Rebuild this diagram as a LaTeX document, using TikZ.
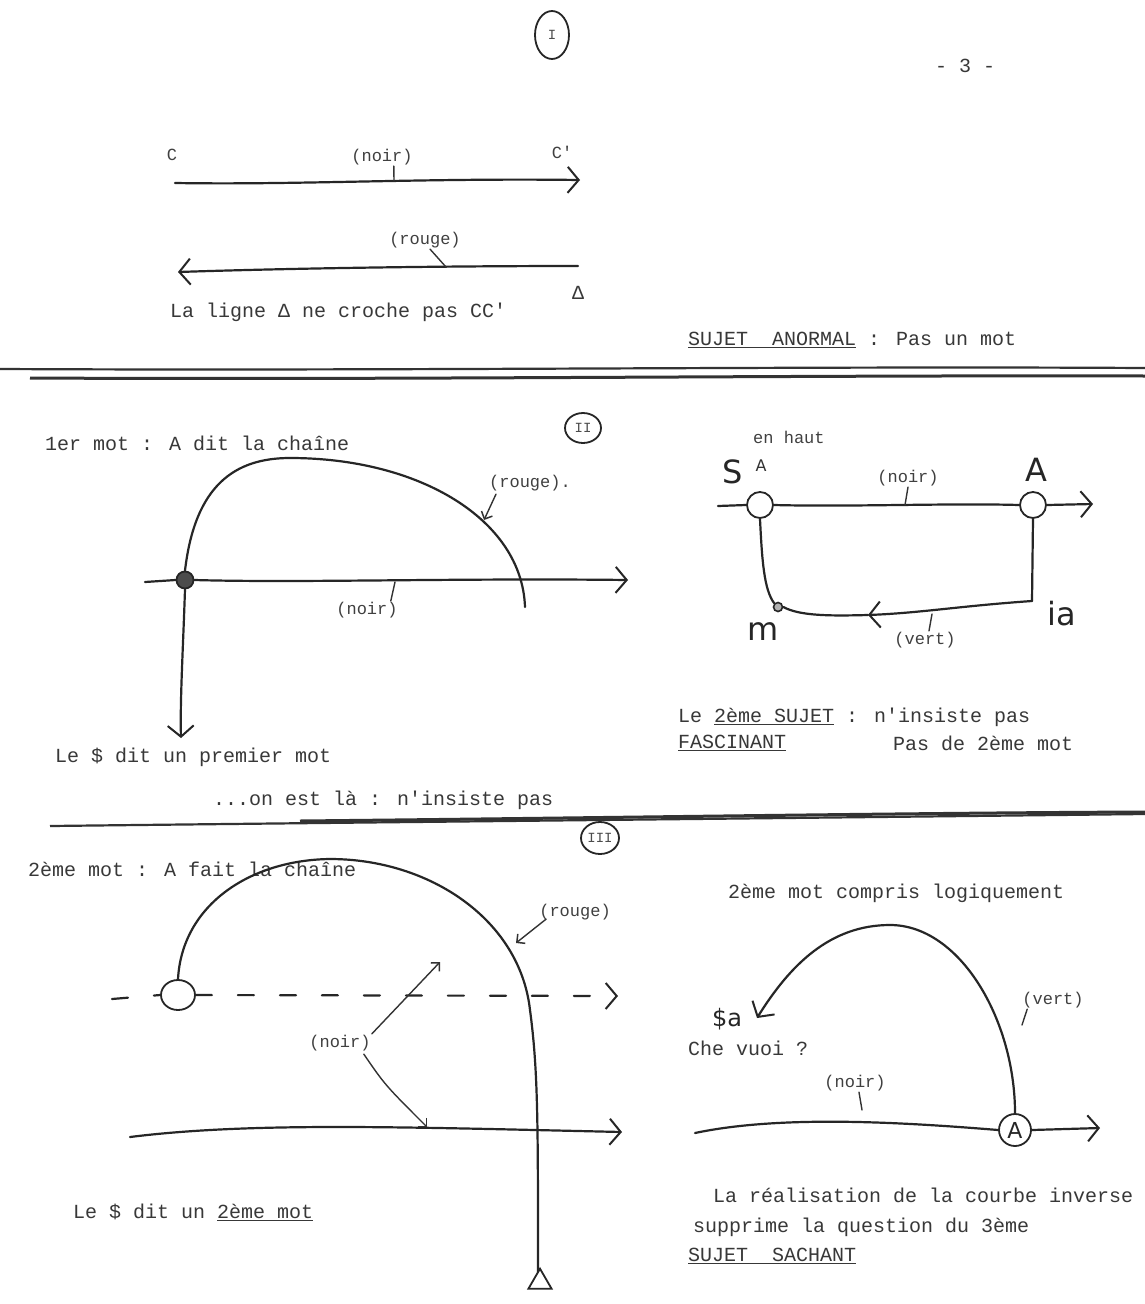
\documentclass[tikz,border=0pt]{standalone}
\usepackage{fontspec}
\newfontfamily\tw{Liberation Mono}
\newfontfamily\hw{DejaVu Sans}
\usetikzlibrary{arrows.meta,shapes.geometric}
\tikzset{
 ink/.style={draw=black!85, line width=2.2pt, line cap=round, line join=round},
 barb/.style={-{Straight Barb[length=11pt,width=26pt,line width=2pt]}},
 rbarb/.style={{Straight Barb[length=11pt,width=26pt,line width=2pt]}-},
 sbarb/.style={-{Straight Barb[length=6pt,width=12pt,line width=1.5pt]}},
 txt/.style={font=\tw\fontsize{20}{22}\selectfont, text=black!78, anchor=west, inner sep=0pt},
 lbl/.style={font=\tw\fontsize{17}{20}\selectfont, text=black!75, inner sep=1pt},
 hand/.style={font=\hw\fontsize{32}{34}\selectfont, text=black!85, inner sep=0pt},
 ring/.style={draw=black!85, line width=1.8pt, circle, minimum size=26pt, inner sep=0pt},
 roman/.style={draw=black!85, line width=1.8pt, ellipse, minimum width=36pt, minimum height=30pt, inner sep=0pt, font=\tw\fontsize{14}{16}\selectfont, text=black!70},
 leader/.style={draw=black!80, line width=1.4pt, line cap=round},
 sep/.style={draw=black!80, line width=2.2pt},
}
\begin{document}
\begin{tikzpicture}[x=1pt,y=-1pt]
\useasboundingbox (0,0) rectangle (1145,1304);
\fill[white] (0,0) rectangle (1145,1304);

% ---------- header ----------
\node[roman, minimum width=34pt, minimum height=48pt] (r1) at (552,35) {I};
\node[txt] (page) at (935,66) {- 3 -};

% ---------- section I ----------
\node[lbl] (C) at (172,155) {C};
\node[lbl] (Cp) at (562,152) {C'};
\coordinate (c1) at (175,183);
\coordinate (c2) at (580,180);
\draw[ink,barb] (c1) .. controls (300,185) and (420,178) .. (c2);
\node[lbl] (noir1) at (382,157) {(noir)};
\coordinate (n1t) at (394,181);
\draw[leader] (noir1.south east) ++(-20,0) -- (n1t);

\coordinate (d1) at (578,266);
\coordinate (d2) at (178,272);
\draw[ink,rbarb] (d2) .. controls (300,268) and (450,266) .. (d1);
\node[lbl] (rouge1) at (425,240) {(rouge)};
\coordinate (r1t) at (446,267);
\draw[leader] (rouge1.south) ++(5,0) -- (r1t);
\node[txt, anchor=center] (delta1) at (578,293) {Δ};
\node[txt] (capI) at (170,312) {La ligne Δ ne croche pas CC'};
\node[txt] (capI2) at (688,340) {\underline{SUJET\ \ ANORMAL} : Pas un mot};

% separator 1
\draw[sep] (0,369) .. controls (400,371) and (800,366) .. (1145,368);
\draw[sep, line width=3pt] (30,378) .. controls (400,380) and (800,375) .. (1145,376);

% ---------- section II left ----------
\node[roman] (r2) at (583,428) {II};
\node[txt] (t2) at (45,443) {1er mot : A dit la chaîne};
\node[ring, minimum size=17pt, fill=black!70] (D2) at (185,580) {};
\draw[ink] (D2.north) .. controls (195,485) and (235,458) .. (290,458)
  .. controls (420,458) and (522,520) .. (525,607);
\node[lbl] (rouge2) at (530,483) {(rouge).};
\coordinate (r2t) at (484,520);
\draw[leader,sbarb] (rouge2.south west) ++(8,2) -- (r2t);
\coordinate (h2a) at (145,582);
\coordinate (h2b) at (628,580);
\draw[ink] (h2a) -- (D2.west);
\draw[ink,barb] (D2.east) .. controls (300,583) and (450,578) .. (h2b);
\node[lbl] (noir2) at (367,610) {(noir)};
\coordinate (n2t) at (395,582);
\draw[leader] (noir2.north east) ++(-8,0) -- (n2t);
\coordinate (v2) at (181,738);
\draw[ink,barb] (D2.south) .. controls (183,650) and (180,700) .. (v2);
\node[txt] (t2b) at (55,757) {Le \$ dit un premier mot};
\node[txt] (t2c) at (213,800) {...on est là : n'insiste pas};

% ---------- section II right ----------
\node[lbl, anchor=west] (enhaut) at (752,437) {en haut};
\node[hand] (S2) at (733,472) {S};
\node[font=\hw\fontsize{16}{18}\selectfont, text=black!80] (a2) at (761,466) {A};
\node[hand] (A2) at (1036,470) {A};
\node[ring] (Sc) at (760,505) {};
\node[ring] (Ac) at (1033,505) {};
\coordinate (l2a) at (718,506);
\coordinate (l2b) at (1093,504);
\draw[ink] (l2a) -- (Sc.west);
\draw[ink] (Sc.east) .. controls (850,507) and (950,503) .. (Ac.west);
\draw[ink,barb] (Ac.east) -- (l2b);
\node[lbl] (noir3) at (908,478) {(noir)};
\coordinate (n3t) at (905,505);
\draw[leader] (noir3.south) -- (n3t);
\node[ring, minimum size=9pt, line width=1.6pt, fill=black!30] (mdot) at (778,607) {};
\coordinate (corner) at (1032,601);
\coordinate (midarr) at (868,615);
\draw[ink] (Sc.south) .. controls (762,560) and (764,590) .. (mdot.north west);
\draw[ink] (Ac.south) -- (corner);
\draw[ink,barb] (corner) .. controls (960,606) and (920,613) .. (midarr);
\draw[ink] (midarr) .. controls (830,616) and (800,616) .. (mdot.east);
\node[hand] (m) at (763,632) {m};
\node[hand] (ia) at (1062,614) {ia};
\node[lbl] (vert2) at (925,640) {(vert)};
\coordinate (v2t) at (932,614);
\draw[leader] (vert2.north) ++(4,0) -- (v2t);
\node[txt] (t2d) at (678,717) {Le \underline{2ème SUJET} : n'insiste pas};
\node[txt] (t2e) at (678,743) {\underline{FASCINANT}};
\node[txt] (t2f) at (893,743) {Pas de 2ème mot};

% separator 2
\draw[sep] (50,826) .. controls (400,822) and (800,818) .. (1145,814);
\draw[sep, line width=3pt] (300,821) .. controls (600,818) and (900,813) .. (1145,812);

% ---------- section III left ----------
\node[roman, minimum width=38pt, minimum height=32pt] (r3) at (600,838) {III};
\node[txt] (t3) at (28,869) {2ème mot : A fait la chaîne};
\node[ring, ellipse, minimum width=34pt, minimum height=30pt] (C3) at (178,995) {};
\coordinate (dl) at (112,999);
\coordinate (dr) at (618,996);
\draw[ink, dash pattern=on 16pt off 26pt] (dl) -- (C3.west);
\draw[ink, dash pattern=on 16pt off 26pt, barb] (C3.east) -- (dr);
\coordinate (bot3) at (538,1272);
\draw[ink] (C3.north) .. controls (182,905) and (250,860) .. (330,859)
  .. controls (430,859) and (520,920) .. (530,1010)
  .. controls (538,1070) and (538,1120) .. (bot3);
\node[draw=black!85, line width=1.8pt, isosceles triangle, shape border rotate=90, minimum width=22pt, minimum height=20pt, inner sep=0pt, isosceles triangle apex angle=60] (tri3) at (540,1282) {};
\node[lbl] (rouge3) at (575,912) {(rouge)};
\coordinate (r3t) at (516,943);
\draw[leader,sbarb] (rouge3.south west) ++(8,-2) -- (r3t);
\coordinate (s3a) at (130,1137);
\coordinate (s3b) at (622,1132);
\draw[ink,barb] (s3a) .. controls (250,1122) and (400,1127) .. (s3b);
\node[lbl] (noir4) at (340,1043) {(noir)};
\coordinate (n4a) at (440,962);
\coordinate (n4b) at (427,1127);
\draw[leader,sbarb] (noir4.north east) -- (n4a);
\draw[leader,sbarb] (noir4.south east) ++(-8,2) .. controls (385,1085) .. (n4b);
\node[txt] (t3b) at (73,1212) {Le \$ dit un \underline{2ème mot}};

% ---------- section III right ----------
\node[txt] (t3c) at (728,893) {2ème mot compris logiquement};
\node[ring, minimum size=32pt] (A3) at (1015,1130) {};
\node[hand, font=\hw\fontsize{22}{24}\selectfont] (A3t) at (1015,1130) {A};
\coordinate (arr3) at (757,1018);
\draw[ink,barb] (A3.north) .. controls (1015,1020) and (960,925) .. (890,925)
  .. controls (830,925) and (790,965) .. (arr3);
\node[hand, font=\hw\fontsize{24}{26}\selectfont] (Sa) at (727,1019) {\$a};
\node[txt] (che) at (688,1048) {Che vuoi ?};
\node[lbl] (vert3) at (1053,1000) {(vert)};
\coordinate (v3t) at (1022,1025);
\draw[leader] (vert3.south west) ++(6,0) -- (v3t);
\coordinate (s4a) at (695,1133);
\coordinate (s4b) at (1100,1128);
\draw[ink] (s4a) .. controls (780,1115) and (900,1122) .. (A3.west);
\draw[ink,barb] (A3.east) -- (s4b);
\node[lbl] (noir5) at (855,1083) {(noir)};
\coordinate (n5t) at (862,1110);
\draw[leader] (noir5.south) ++(4,0) -- (n5t);
\node[txt] (t3d) at (713,1195) {La réalisation de la courbe inverse};
\node[txt] (t3e) at (693,1227) {supprime la question du 3ème};
\node[txt] (t3f) at (688,1256) {\underline{SUJET\ \ SACHANT}};
\end{tikzpicture}
\end{document}
